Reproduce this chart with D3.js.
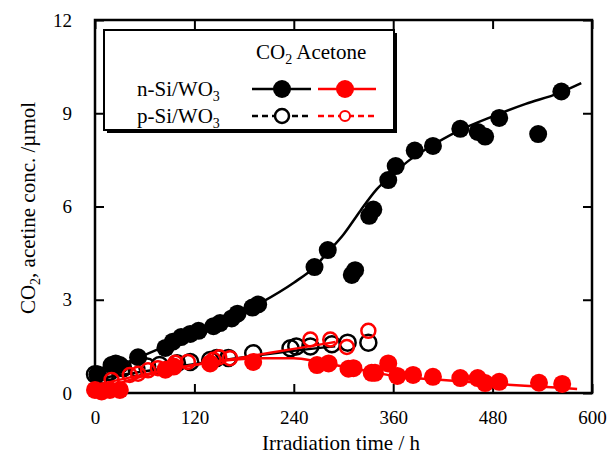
<!doctype html>
<html>
<head>
<meta charset="utf-8">
<style>
  body { margin:0; background:#fff; }
  svg { display:block; font-family:"Liberation Serif","Times New Roman",serif; }
  .axis path { display:none; }
  .axis line { stroke:#000; stroke-width:2px; }
  .axis text { font-size:19px; fill:#000; font-family:"Liberation Serif","Times New Roman",serif; }
</style>
<script src="https://d3js.org/d3.v7.min.js"></script>
</head>
<body>
<svg id="chart" width="609" height="464"></svg>
<script>
// tick labels
var xTicks = [0, 120, 240, 360, 480, 600]
var yTicks = [0, 3, 6, 9, 12]

// measured points [time h, conc umol]
var nCO2 = [[3,0.6],[20,0.9],[25,0.95],[30,0.9],[52,1.15],[85,1.45],[94,1.65],[104,1.8],[115,1.9],
            [125,2.0],[143,2.15],[151,2.25],[165,2.4],[172,2.55],[190,2.75],[197,2.85],
            [265,4.05],[281,4.6],[310,3.8],[314,3.95],[331,5.7],[336,5.9],[354,6.85],[363,7.3],
            [386,7.8],[408,7.95],[441,8.5],[462,8.4],[471,8.25],[488,8.85],[535,8.33],[563,9.7]]
var pCO2 = [[0,0.6],[5,0.5],[12,0.55],[18,0.68],[34,0.8],[50,0.8],[63,0.85],[78,0.9],[99,0.96],
            [115,1.0],[139,1.06],[147,1.13],[161,1.13],[191,1.28],[236,1.44],[243,1.5],[260,1.5],
            [286,1.57],[305,1.62],[330,1.62]]
var nAce = [[0,0.1],[8,0.05],[18,0.1],[30,0.1],[85,0.75],[95,0.85],[139,0.95],[191,1.0],
            [268,0.9],[282,0.95],[306,0.78],[312,0.8],[334,0.65],[338,0.65],[354,0.95],[365,0.55],
            [384,0.58],[408,0.52],[441,0.48],[462,0.48],[471,0.32],[488,0.36],[536,0.33],[564,0.29]]
var pAce = [[20,0.42],[42,0.58],[52,0.62],[64,0.73],[76,0.8],[97,0.97],[112,1.0],[143,1.07],
            [150,1.15],[163,1.12],[260,1.72],[284,1.72],[304,1.48],[330,2.0]]

// fitted curves
var nCO2Fit = [[0,0.6],[40,1.0],[80,1.45],[120,1.9],[160,2.35],[200,2.9],[240,3.55],[265,4.05],
               [280,4.5],[300,5.1],[320,5.85],[340,6.55],[360,7.05],[380,7.5],[400,7.85],
               [440,8.45],[480,8.9],[520,9.3],[560,9.65],[587,9.97]]
var pCO2Fit = [[0,0.45],[60,0.7],[120,0.93],[180,1.15],[240,1.36],[290,1.5]]
var nAceFit = [[0,0.05],[40,0.4],[80,0.7],[120,0.9],[160,1.05],[200,1.12],[240,1.12],[270,1.0],
               [300,0.85],[330,0.7],[360,0.55],[420,0.42],[480,0.3],[540,0.2],[582,0.13]]
var pAceFit = [[0,0.25],[60,0.6],[120,0.9],[180,1.15],[240,1.42],[290,1.64]]

var svg = d3.select("#chart")
var x = d3.scaleLinear().domain([0,600]).range([95,592])
var y = d3.scaleLinear().domain([0,12]).range([393,20])

var tk = 9
svg.append("g").attr("class","axis").attr("transform","translate(0,393)")
   .call(d3.axisBottom(x).tickValues(xTicks).tickSizeInner(-tk).tickSizeOuter(0).tickPadding(18))
svg.append("g").attr("class","axis").attr("transform","translate(0,20)")
   .call(d3.axisTop(x).tickValues(xTicks).tickSizeInner(-tk).tickSizeOuter(0).tickFormat(""))
svg.append("g").attr("class","axis").attr("transform","translate(95,0)")
   .call(d3.axisLeft(y).tickValues(yTicks).tickSizeInner(-tk).tickSizeOuter(0).tickPadding(23))
svg.append("g").attr("class","axis").attr("transform","translate(592,0)")
   .call(d3.axisRight(y).tickValues(yTicks).tickSizeInner(-tk).tickSizeOuter(0).tickFormat(""))

svg.append("rect").attr("x",95).attr("y",20).attr("width",497).attr("height",373)
   .attr("fill","none").attr("stroke","#000").attr("stroke-width",2.5)

var line = d3.line().x(function(d){return x(d[0])}).y(function(d){return y(d[1])}).curve(d3.curveMonotoneX)
var plot = svg.append("g")

function drawLine(data, color, w) {
  plot.append("path").datum(data).attr("d",line).attr("fill","none")
      .attr("stroke",color).attr("stroke-width",w)
}
function drawDots(data, color, filled, r) {
  plot.selectAll(null).data(data).enter().append("circle")
      .attr("cx",function(d){return x(d[0])}).attr("cy",function(d){return y(d[1])})
      .attr("r",r)
      .attr("fill",filled ? color : "none")
      .attr("stroke",color).attr("stroke-width",filled ? 0 : 2.5)
}

drawLine(nCO2Fit,"#000",2.5)
drawLine(pCO2Fit,"#000",2.5)
drawDots(pCO2,"#000",false,8)
drawDots(nCO2,"#000",true,9)
drawLine(nAceFit,"#f00",2.5)
drawLine(pAceFit,"#f00",2.5)
drawDots(nAce,"#f00",true,9)
drawDots(pAce,"#f00",false,7)

// legend
var fs = 21, sub = 14
var lg = svg.append("g")
lg.append("rect").attr("x",107).attr("y",33).attr("width",290).attr("height",100).attr("fill","#000")
lg.append("rect").attr("x",104).attr("y",30).attr("width",290).attr("height",100)
  .attr("fill","#fff").attr("stroke","#000").attr("stroke-width",2)

var t1 = lg.append("text").attr("x",256).attr("y",59).attr("font-size",fs)
t1.append("tspan").text("CO")
t1.append("tspan").attr("font-size",sub).attr("dy",5).text("2")
t1.append("tspan").attr("dy",-5).text(" Acetone")

var rows = [["n-Si/WO", 89, true, "0"], ["p-Si/WO", 116, false, "6 4"]]
rows.forEach(function(r) {
  var t = lg.append("text").attr("x",137).attr("y",r[1]+7).attr("font-size",fs)
  t.append("tspan").text(r[0])
  t.append("tspan").attr("font-size",sub).attr("dy",5).text("3")
  lg.append("line").attr("x1",252).attr("x2",311).attr("y1",r[1]).attr("y2",r[1])
    .attr("stroke","#000").attr("stroke-width",2.5).attr("stroke-dasharray",r[3])
  lg.append("line").attr("x1",318).attr("x2",376).attr("y1",r[1]).attr("y2",r[1])
    .attr("stroke","#f00").attr("stroke-width",2.5).attr("stroke-dasharray",r[3])
  lg.append("circle").attr("cx",282).attr("cy",r[1]).attr("r",r[2] ? 9 : 7)
    .attr("fill",r[2] ? "#000" : "#fff").attr("stroke","#000").attr("stroke-width",r[2] ? 0 : 2.5)
  lg.append("circle").attr("cx",345).attr("cy",r[1]).attr("r",r[2] ? 9 : 5)
    .attr("fill",r[2] ? "#f00" : "#fff").attr("stroke","#f00").attr("stroke-width",r[2] ? 0 : 2)
})

// axis titles
svg.append("text").attr("x",341).attr("y",450).attr("text-anchor","middle")
   .attr("font-size",fs).text("Irradiation time / h")
var yt = svg.append("text").attr("transform","translate(35,208) rotate(-90)")
   .attr("text-anchor","middle").attr("font-size",fs)
yt.append("tspan").text("CO")
yt.append("tspan").attr("font-size",sub).attr("dy",5).text("2")
yt.append("tspan").attr("dy",-5).text(", acetine conc. /\u00b5mol")
</script>
</body>
</html>
